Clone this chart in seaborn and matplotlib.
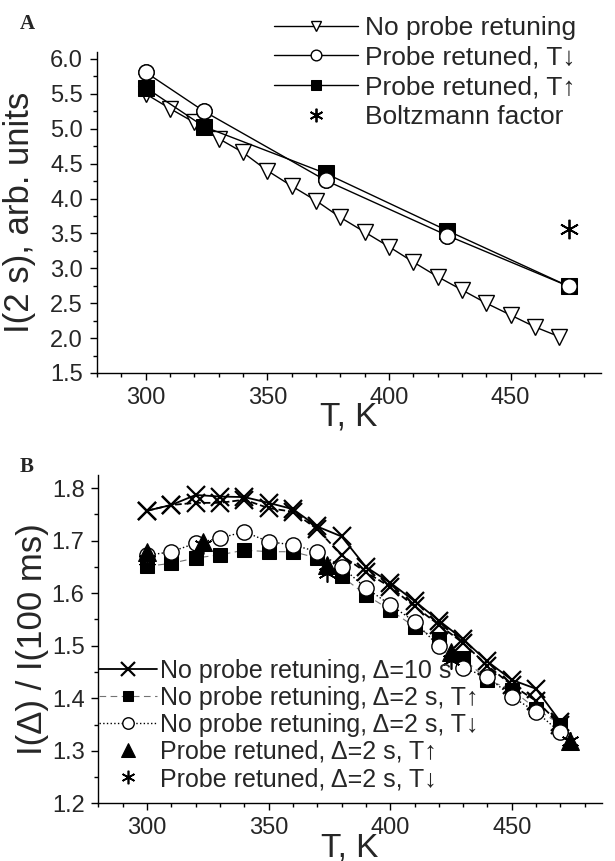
import numpy as np
import matplotlib
matplotlib.use('Agg')
import matplotlib.pyplot as plt
from matplotlib.ticker import MultipleLocator
import seaborn as sns

sns.set_style('ticks')
plt.rcParams['font.family'] = ['Liberation Sans', 'DejaVu Sans']
plt.rcParams['axes.linewidth'] = 1.0

# ---- panel A data ----
t_a = [300, 310, 320, 330, 340, 350, 360, 370, 380, 390,
       400, 410, 420, 430, 440, 450, 460, 470]
no_retune = [5.50, 5.29, 5.09, 4.86, 4.66, 4.40, 4.18, 3.97, 3.73, 3.52,
             3.31, 3.09, 2.88, 2.69, 2.50, 2.33, 2.16, 2.02]
t_ret = [300, 324, 374, 424, 474]
ret_down = [5.81, 5.25, 4.26, 3.47, 2.74]
ret_up = [5.59, 5.03, 4.36, 3.54, 2.74]
t_boltz = [474]
boltz = [3.56]

# ---- panel B data ----
t_b = [300, 310, 320, 330, 340, 350, 360, 370, 380, 390,
       400, 410, 420, 430, 440, 450, 460, 470]
cross_a = [1.757, 1.768, 1.787, 1.784, 1.783, 1.772, 1.760, 1.727, 1.708, 1.650,
           1.620, 1.585, 1.548, 1.512, 1.470, 1.435, 1.418, 1.355]
cross_b = [1.757, 1.768, 1.772, 1.772, 1.778, 1.762, 1.755, 1.722, 1.672, 1.640,
           1.612, 1.575, 1.540, 1.505, 1.462, 1.425, 1.395, 1.350]
sq_up = [1.651, 1.657, 1.667, 1.673, 1.682, 1.679, 1.679, 1.667, 1.632, 1.597,
         1.568, 1.536, 1.512, 1.476, 1.435, 1.416, 1.380, 1.350]
circ_down = [1.672, 1.679, 1.695, 1.705, 1.717, 1.698, 1.692, 1.679, 1.650, 1.610,
             1.578, 1.546, 1.499, 1.457, 1.441, 1.403, 1.374, 1.335]
t_pr = [300, 323, 374, 425, 474]
tri_up = [1.678, 1.698, 1.654, 1.489, 1.318]
star_down = [1.663, 1.692, 1.638, 1.473, 1.318]

fig = plt.figure(figsize=(6.15, 8.61), dpi=100)
axA = fig.add_axes([0.1577, 0.5668, 0.819, 0.3728])
axB = fig.add_axes([0.160, 0.067, 0.8185, 0.3813])

asterisk = (6, 2, 0)

# panel A
sns.lineplot(x=t_a, y=no_retune, ax=axA, color='k', lw=1.0, marker='v',
             ms=11, mfc='white', mec='k', mew=1.0, label='No probe retuning')
sns.lineplot(x=t_ret, y=ret_down, ax=axA, color='k', lw=1.0, marker='o',
             ms=11, mfc='white', mec='k', mew=1.0, label='Probe retuned, T↓')
sns.lineplot(x=t_ret, y=ret_up, ax=axA, color='k', lw=1.0, marker='s',
             ms=11, mfc='k', mec='k', label='Probe retuned, T↑')
sns.lineplot(x=t_boltz, y=boltz, ax=axA, color='k', lw=0, marker=asterisk,
             ms=14, mew=1.3, mec='k', label='Boltzmann factor')
# redraw white-filled circles on top of the square line
axA.plot(t_ret, ret_down, ls='none', marker='o', ms=11, mfc='white', mec='k', zorder=5)

axA.set_xlim(280, 487)
axA.set_ylim(1.5, 6.1)
axA.xaxis.set_major_locator(MultipleLocator(50))
axA.xaxis.set_minor_locator(MultipleLocator(10))
axA.yaxis.set_major_locator(MultipleLocator(0.5))
axA.yaxis.set_minor_locator(MultipleLocator(0.25))
axA.yaxis.set_major_formatter(matplotlib.ticker.FormatStrFormatter('%.1f'))
axA.set_xlabel('T, K', fontsize=24, labelpad=-5)
axA.set_ylabel('I(2 s), arb. units', fontsize=25, labelpad=10)
hA, lA = axA.get_legend_handles_labels()
axA.legend(hA, lA, loc='upper left', bbox_to_anchor=(258 / 615, 1 - 0 / 861),
           bbox_transform=fig.transFigure, frameon=False, fontsize=19,
           handlelength=3.2, handletextpad=0.25, labelspacing=0.22,
           borderpad=0.1, numpoints=1, markerscale=0.7)

# panel B
sns.lineplot(x=t_b, y=cross_a, ax=axB, color='k', lw=1.3, marker='x',
             ms=13, mew=1.6, mec='k', label='No probe retuning, Δ=10 s')
sns.lineplot(x=t_b, y=cross_b, ax=axB, color='k', lw=1.3, marker='x',
             ms=13, mew=1.6, mec='k', ls='--', legend=False)
sns.lineplot(x=t_b, y=sq_up, ax=axB, color='0.45', lw=0.8, marker='s',
             ms=10, mfc='k', mec='k', ls=(0, (6, 4)), label='No probe retuning, Δ=2 s, T↑')
sns.lineplot(x=t_b, y=circ_down, ax=axB, color='k', lw=1.0, marker='o',
             ms=11, mfc='white', mec='k', mew=1.0, ls=':', label='No probe retuning, Δ=2 s, T↓')
sns.lineplot(x=t_pr, y=tri_up, ax=axB, color='k', lw=0, marker='^',
             ms=13, mfc='k', mec='k', label='Probe retuned, Δ=2 s, T↑')
sns.lineplot(x=t_pr, y=star_down, ax=axB, color='k', lw=0, marker=asterisk,
             ms=13, mew=1.2, mec='k', label='Probe retuned, Δ=2 s, T↓')

axB.set_xlim(280, 487)
axB.set_ylim(1.2, 1.825)
axB.xaxis.set_major_locator(MultipleLocator(50))
axB.xaxis.set_minor_locator(MultipleLocator(10))
axB.yaxis.set_major_locator(MultipleLocator(0.1))
axB.yaxis.set_minor_locator(MultipleLocator(0.05))
axB.yaxis.set_major_formatter(matplotlib.ticker.FormatStrFormatter('%.1f'))
axB.set_xlabel('T, K', fontsize=24, labelpad=-5)
axB.set_ylabel('I(Δ) / I(100 ms)', fontsize=25, labelpad=2)
hB, lB = axB.get_legend_handles_labels()
axB.legend(hB, lB, loc='upper left', bbox_to_anchor=(84 / 615, 1 - 644 / 861),
           bbox_transform=fig.transFigure, frameon=False, fontsize=18,
           handlelength=2.3, handletextpad=0.15, labelspacing=0.12,
           borderpad=0.1, numpoints=1, markerscale=0.75)

for ax in (axA, axB):
    sns.despine(ax=ax)
    ax.tick_params(axis='both', which='major', labelsize=17, length=5, width=1.0,
                   color='k', pad=5)
    ax.tick_params(axis='both', which='minor', length=3, width=1.0, color='k')
    for s in ax.spines.values():
        s.set_color('k')

fig.text(20 / 615, 1 - 24 / 861, 'A', fontsize=15, fontweight='bold',
         family='Liberation Serif', va='center')
fig.text(20 / 615, 1 - 467 / 861, 'B', fontsize=15, fontweight='bold',
         family='Liberation Serif', va='center')

fig.savefig('out.png', dpi=100)
